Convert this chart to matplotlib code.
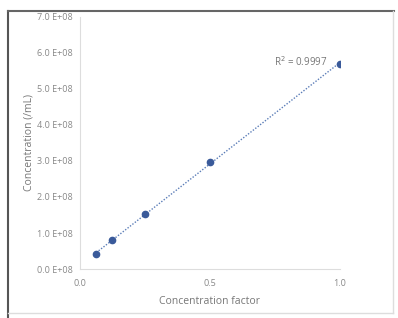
import numpy as np
import matplotlib
matplotlib.use("Agg")
import matplotlib.pyplot as plt
from matplotlib.lines import Line2D

# data
factor = [0.0625, 0.125, 0.25, 0.5, 1.0]
conc = [4.2e7, 8.0e7, 1.52e8, 2.98e8, 5.7e8]
yticks = [0, 1e8, 2e8, 3e8, 4e8, 5e8, 6e8, 7e8]
xticks = [0.0, 0.5, 1.0]

plt.rcParams['font.family'] = ['Open Sans', 'DejaVu Sans']

fig = plt.figure(figsize=(3.98, 3.18), dpi=100)
# outer frame: darker top/left, lighter right/bottom
fig.lines.append(Line2D([0.021, 0.021], [0.0, 0.965], transform=fig.transFigure, color='#555555', lw=1.5))
fig.lines.append(Line2D([0.021, 0.99], [0.965, 0.965], transform=fig.transFigure, color='#666666', lw=1.5))
fig.lines.append(Line2D([0.988, 0.988], [0.015, 0.965], transform=fig.transFigure, color='#dddddd', lw=1.0))
fig.lines.append(Line2D([0.021, 0.988], [0.015, 0.015], transform=fig.transFigure, color='#dddddd', lw=1.0))

ax = fig.add_axes([0.201, 0.154, 0.653, 0.793])

# linear trendline
slope, icpt = np.polyfit(factor, conc, 1)
fx = np.array([factor[0], factor[-1]])
ax.plot(fx, slope * fx + icpt, linestyle=(0, (1, 1.2)), color='#5b7db8', linewidth=1.0)
ax.plot(factor, conc, 'o', color='#3a5a9a', markersize=4.5)

ax.text(0.95, 5.75e8, "R$^2$ = 0.9997", fontsize=7, color='#777777', va='center', ha='right')

ax.set_xlim(0, 1.0)
ax.set_ylim(0, 7e8)
ax.set_xticks(xticks)
ax.set_xticklabels(["0.0", "0.5", "1.0"])
ax.set_yticks(yticks)
ax.set_yticklabels(["%.1f E+08" % (v / 1e8) for v in yticks])
ax.tick_params(length=0, labelsize=6.5, colors='#888888', pad=5)
ax.tick_params(axis='x', pad=7)
for s in ['top', 'right']:
    ax.spines[s].set_visible(False)
for s in ['left', 'bottom']:
    ax.spines[s].set_color('#dddddd')
ax.set_xlabel("Concentration factor", fontsize=7.5, color='#777777', labelpad=6)
ax.set_ylabel("Concentration (/mL)", fontsize=7.5, color='#777777', labelpad=2)

fig.savefig("out.png", dpi=100)
